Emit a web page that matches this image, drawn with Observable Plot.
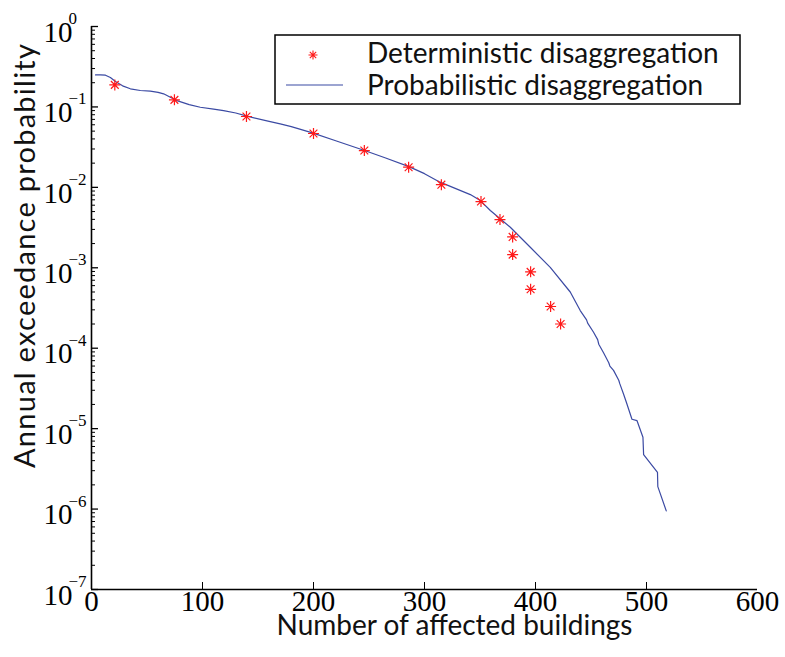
<!DOCTYPE html>
<html><head><meta charset="utf-8">
<script src="https://cdn.jsdelivr.net/npm/d3@7"></script>
<script src="https://cdn.jsdelivr.net/npm/@observablehq/plot@0.6"></script>
<style>
body{margin:0;background:#fff;}
#wrap{position:relative;width:785px;height:657px;overflow:hidden;}
</style></head><body><div id="wrap"></div>
<script>
// Deterministic disaggregation (red asterisks)
const detX = [21, 74.7, 139.6, 200, 245.8, 285.7, 315.2, 350.9, 368.0, 379.4, 379.4, 395.6, 395.6, 413.6, 422.6];
const detY = [0.188, 0.1225, 0.076, 0.0467, 0.0287, 0.0178, 0.0108, 0.00666, 0.00398, 0.00242, 0.00146, 0.00089, 0.00054, 0.00033, 0.0002];

// Probabilistic disaggregation (blue line)
const probX = [3.6, 8, 12.6, 17, 21.6, 28, 35, 44, 53, 60, 65, 71, 77, 88, 98, 110, 119, 130, 140, 160, 170, 180, 199, 220, 246, 265, 286, 300, 314, 341.3, 350.3, 359.3, 377.3, 395.3, 413.3, 431.3, 440.3, 446, 447, 452.3, 456, 457, 461.3, 466, 467, 470.3, 475, 476, 479.3, 482, 486.9, 491.4, 496.8, 497.4, 509.9, 510.2, 517.8];
const probY = [0.25, 0.25, 0.248, 0.232, 0.207, 0.183, 0.168, 0.16, 0.157, 0.152, 0.1455, 0.132, 0.120, 0.107, 0.099, 0.094, 0.090, 0.084, 0.0767, 0.066, 0.0616, 0.057, 0.0476, 0.038, 0.0287, 0.0232, 0.0181, 0.0148, 0.0116, 0.00813, 0.00685, 0.00515, 0.00319, 0.0018, 0.00101, 0.00050, 0.000294, 0.000225, 0.000205, 0.000158, 0.000128, 0.000112, 0.000088, 0.000066, 0.000060, 0.000053, 0.000040, 0.000036, 0.000027, 0.000021, 0.0000131, 0.0000126, 0.0000078, 0.00000475, 0.00000286, 0.0000019, 0.00000095];

const xTickValues = [0, 100, 200, 300, 400, 500, 600];
const yExponents = [0, -1, -2, -3, -4, -5, -6, -7];
const seriesNames = ["Deterministic disaggregation", "Probabilistic disaggregation"];
const xLabel = "Number of affected buildings";
const yLabel = "Annual exceedance probability";

const det = detX.map((x, i) => ({x, y: detY[i]}));
const prob = probX.map((x, i) => ({x, y: probY[i]}));
const yMajor = yExponents.map(e => Math.pow(10, e));
const yMinor = [];
for (const e of yExponents.slice(1)) for (let m = 2; m <= 9; m++) yMinor.push(m * Math.pow(10, e));
const yExpData = yExponents.map(e => ({v: Math.pow(10, e), e}));

const asterisk = {
  draw(ctx, size) {
    const r = Math.sqrt(size / Math.PI);
    const d = r * Math.SQRT1_2;
    ctx.moveTo(-r, 0); ctx.lineTo(r, 0);
    ctx.moveTo(0, -r); ctx.lineTo(0, r);
    ctx.moveTo(-d, -d); ctx.lineTo(d, d);
    ctx.moveTo(-d, d); ctx.lineTo(d, -d);
  }
};

const serif = "Liberation Serif, DejaVu Serif, serif";
const sans = "Lato, Noto Sans, sans-serif";
const lineColor = "#3b4aa3";
const red = "#ff1a1a";

const chart = Plot.plot({
  width: 785,
  height: 657,
  marginLeft: 91,
  marginRight: 28,
  marginTop: 26,
  marginBottom: 68,
  style: {background: "#fff", overflow: "visible"},
  x: {domain: [0, 600]},
  y: {type: "log", domain: [1e-7, 1]},
  marks: [
    Plot.axisY(yMinor, {tickSize: -4, tickFormat: () => "", label: null, strokeWidth: 1}),
    Plot.axisY(yMajor, {tickSize: -7, tickFormat: () => "", label: null, strokeWidth: 1.3}),
    Plot.axisX([100, 200, 300, 400, 500], {tickSize: -7, tickFormat: () => "", label: null, strokeWidth: 1}),
    Plot.ruleX([0], {y1: 1e-7, y2: 1, stroke: "#000", strokeWidth: 1.6}),
    Plot.ruleY([1e-7], {x1: 0, x2: 600, stroke: "#000", strokeWidth: 1.6}),
    Plot.line(prob, {x: "x", y: "y", stroke: lineColor, strokeWidth: 1.2}),
    Plot.dot(det, {x: "x", y: "y", symbol: asterisk, r: 5.5, stroke: red, fill: "none", strokeWidth: 1.2}),
    // y tick labels: 10 with superscript exponent
    Plot.text(yExpData, {x: () => 0, y: "v", text: () => "10", textAnchor: "end", dx: -19, dy: 6, fontFamily: serif, fontSize: 29, lineAnchor: "middle"}),
    Plot.text(yExpData, {x: () => 0, y: "v", text: d => d.e === 0 ? "0" : "\u2212" + Math.abs(d.e), textAnchor: "start", dx: -23, dy: -8, fontFamily: serif, fontSize: 17, lineAnchor: "middle"}),
    // x tick labels
    Plot.text(xTickValues, {x: d => d, y: () => 1e-7, text: d => String(d), dy: 12, fontFamily: serif, fontSize: 29, lineAnchor: "middle"}),
    // axis titles
    Plot.text([xLabel], {frameAnchor: "bottom", textAnchor: "middle", text: d => d, dx: 30, dy: 45, fontFamily: sans, fontSize: 28, lineAnchor: "bottom", fill: "#111"}),
    Plot.text([yLabel], {frameAnchor: "left", textAnchor: "middle", text: d => d, rotate: -90, dx: -66, dy: -52, fontFamily: sans, fontSize: 29, lineAnchor: "middle", fill: "#111"})
  ]
});
const wrap = document.getElementById("wrap");
wrap.appendChild(chart);
// stretch the y title to the reference's length
for (const t of chart.querySelectorAll("text")) {
  if (t.textContent === yLabel) { t.setAttribute("textLength", 424); t.setAttribute("lengthAdjust", "spacing"); }
}

// Legend (overlay)
const ns = "http://www.w3.org/2000/svg";
const lg = document.createElementNS(ns, "svg");
lg.setAttribute("width", 785);
lg.setAttribute("height", 130);
lg.style.position = "absolute"; lg.style.left = "0px"; lg.style.top = "0px";
lg.innerHTML = `
<rect x="275" y="35" width="465" height="69" fill="#fff" stroke="#000" stroke-width="1.5"/>
<g stroke="${red}" stroke-width="1.1" transform="translate(313,55)">
<path d="M-4.5,0L4.5,0M0,-4.5L0,4.5M-3.2,-3.2L3.2,3.2M-3.2,3.2L3.2,-3.2"/></g>
<line x1="286" x2="343" y1="85" y2="85" stroke="${lineColor}" stroke-width="1.2"/>
<text x="367" y="63" font-family="${sans}" font-size="28" fill="#111">${seriesNames[0]}</text>
<text x="367" y="95" font-family="${sans}" font-size="28" fill="#111">${seriesNames[1]}</text>`;
wrap.appendChild(lg);
</script></body></html>
